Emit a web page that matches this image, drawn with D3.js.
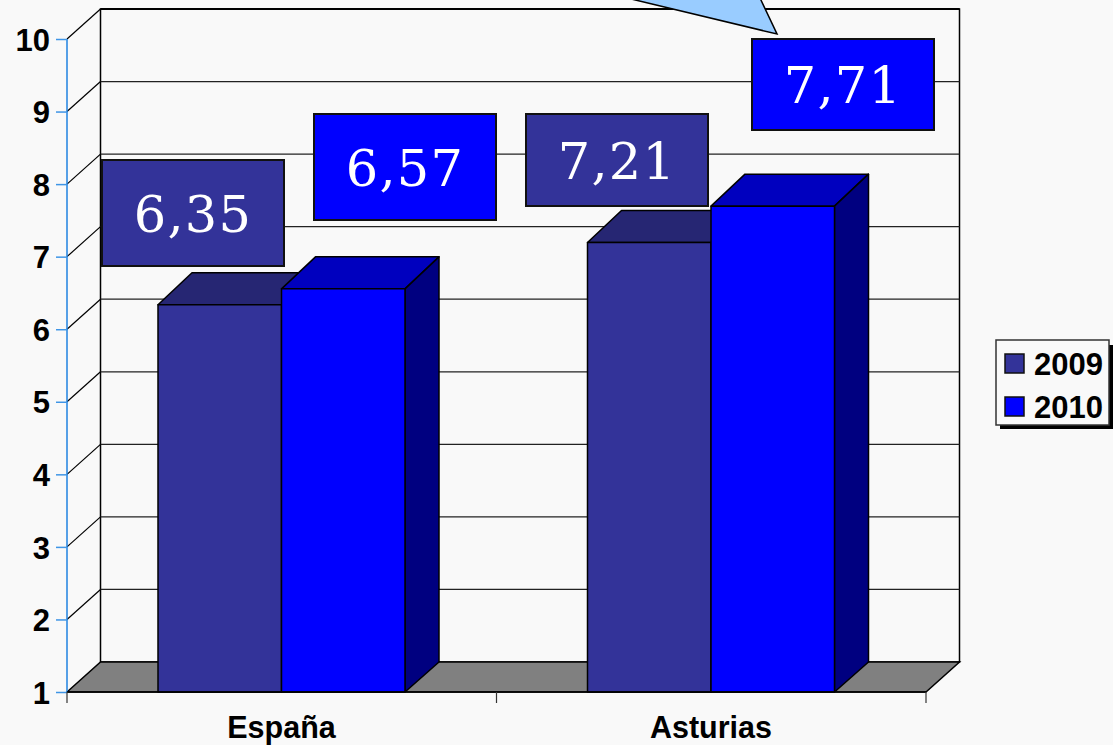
<!DOCTYPE html>
<html><head><meta charset="utf-8">
<script src="https://cdn.jsdelivr.net/npm/d3@7"></script>
<style>html,body{margin:0;padding:0;background:#f9f9f9;overflow:hidden}svg{display:block}</style>
</head><body><svg id="c" width="1113" height="745"></svg>
<script>
const categories = ["España", "Asturias"];
const seriesNames = ["2009", "2010"];
const values2009 = [6.35, 7.21];
const values2010 = [6.57, 7.71];
const yTicks = [1,2,3,4,5,6,7,8,9,10];

const colors = {
  "2009": {front:"#333399", top:"#262673", side:"#1a1a4d"},
  "2010": {front:"#0000ff", top:"#0000bf", side:"#000080"}
};
const svg = d3.select("#c");
const W = {x0:67, x1:926, yBase:692, yTop:39, dx:33.5, dy:30};
const y = d3.scaleLinear().domain([1,10]).range([W.yBase, W.yTop]);
const x0 = d3.scaleBand().domain(categories).range([W.x0, W.x1]);
const x1 = d3.scaleBand().domain(seriesNames).range([91, 338]);
const bx = W.x0 + W.dx, ex = W.x1 + W.dx;

// back wall
svg.append("rect").attr("x",bx).attr("y",y(10)-W.dy).attr("width",ex-bx).attr("height",y(1)-y(10))
  .attr("fill","#f9f9f9").attr("stroke","#000").attr("stroke-width",1.5);
svg.append("line").attr("x1",bx).attr("x2",ex).attr("y1",y(10)-W.dy).attr("y2",y(10)-W.dy).attr("stroke","#000").attr("stroke-width",2);

// grid
const g = svg.append("g");
yTicks.slice(1).forEach(v=>{
  if(v<10) g.append("line").attr("x1",bx).attr("x2",ex).attr("y1",y(v)-W.dy).attr("y2",y(v)-W.dy).attr("stroke","#222").attr("stroke-width",1.2);
  g.append("line").attr("x1",W.x0).attr("x2",bx).attr("y1",y(v)).attr("y2",y(v)-W.dy).attr("stroke","#000").attr("stroke-width",1.2);
});

// floor
svg.append("polygon").attr("points",[[W.x0,y(1)],[bx,y(1)-W.dy],[ex,y(1)-W.dy],[W.x1,y(1)]].join(" "))
  .attr("fill","#808080").attr("stroke","#000").attr("stroke-width",1.5);

// bars
const seriesValues = {"2009":values2009,"2010":values2010};
seriesNames.forEach(s=>{
  categories.forEach((c,i)=>{
    const v = seriesValues[s][i], col = colors[s];
    const l = x0(c)+x1(s), r = l+x1.bandwidth(), t = y(v)+1, b = y(1);
    const ddx = 34, ddy = 32;
    const bar = svg.append("g").attr("stroke","#000").attr("stroke-width",1.5).attr("stroke-linejoin","round");
    bar.append("polygon").attr("points",[[l,t],[l+ddx,t-ddy],[r+ddx,t-ddy],[r,t]].join(" ")).attr("fill",col.top);
    bar.append("polygon").attr("points",[[r,t],[r+ddx,t-ddy],[r+ddx,b-W.dy],[r,b]].join(" ")).attr("fill",col.side);
    bar.append("rect").attr("x",l).attr("y",t).attr("width",r-l).attr("height",b-t).attr("fill",col.front);
  });
});

// y axis
const yAxis = d3.axisLeft(y).tickValues(yTicks).tickSize(11).tickPadding(6).tickFormat(d3.format("d"));
const ya = svg.append("g").attr("transform",`translate(${W.x0},0)`).call(yAxis);
ya.selectAll("path").attr("stroke","#1f82e0").attr("stroke-width",1.5).attr("d",`M0,${y(10)}V${y(1)}`);
ya.selectAll("line").attr("stroke","#3f95e6").attr("stroke-width",1.5);
ya.selectAll("text").attr("font-family","'Liberation Sans'").attr("font-weight","bold").attr("font-size",31).attr("fill","#000").attr("dy","0.36em");

// x axis
svg.append("line").attr("x1",W.x0).attr("x2",W.x1).attr("y1",y(1)).attr("y2",y(1)).attr("stroke","#000").attr("stroke-width",1.5);
[...categories.map(c=>x0(c)), W.x1].forEach(px=>{
  svg.append("line").attr("x1",px).attr("x2",px).attr("y1",y(1)).attr("y2",y(1)+11).attr("stroke","#333").attr("stroke-width",1.2);
});
categories.forEach(c=>{
  svg.append("text").attr("x",x0(c)+(x1.range()[0]+x1.range()[1])/2).attr("y",737.5)
    .attr("text-anchor","middle").attr("font-family","'Liberation Sans'").attr("font-weight","bold").attr("font-size",30.5).text(c);
});

// value boxes
const boxes = [
  {s:"2009",i:0,x:102,y:160,w:182,h:106},
  {s:"2010",i:0,x:314,y:114,w:182,h:106},
  {s:"2009",i:1,x:526,y:114,w:182,h:92},
  {s:"2010",i:1,x:752,y:39,w:182,h:91}
];
const fmt = d3.format(".2f");
boxes.forEach(b=>{
  svg.append("rect").attr("x",b.x).attr("y",b.y).attr("width",b.w).attr("height",b.h)
    .attr("fill",colors[b.s].front).attr("stroke","#111").attr("stroke-width",2);
  svg.append("text").attr("x",b.x+b.w/2).attr("y",b.y+b.h/2+18.5).attr("text-anchor","middle")
    .attr("font-family","'DejaVu Serif'").attr("font-size",51).attr("letter-spacing",1.2).attr("fill","#fff")
    .text(fmt(seriesValues[b.s][b.i]).replace(".",","));
});

// callout
svg.append("polygon").attr("points","627,-2 777,34 760,-2").attr("fill","#99ccff").attr("stroke","#000").attr("stroke-width",1.5);

// legend
svg.append("rect").attr("x",1000).attr("y",345).attr("width",113).attr("height",84).attr("fill","#000");
svg.append("rect").attr("x",996).attr("y",340).attr("width",113).attr("height",85).attr("fill","#f9f9f9").attr("stroke","#333").attr("stroke-width",1.5);
seriesNames.forEach((s,i)=>{
  const ly = 354 + i*43;
  svg.append("rect").attr("x",1005).attr("y",ly).attr("width",19).attr("height",19).attr("fill",colors[s].front).attr("stroke","#111").attr("stroke-width",1.5);
  svg.append("text").attr("x",1034).attr("y",ly+21).attr("font-family","'Liberation Sans'").attr("font-weight","bold").attr("font-size",31).text(s);
});
</script></body></html>
